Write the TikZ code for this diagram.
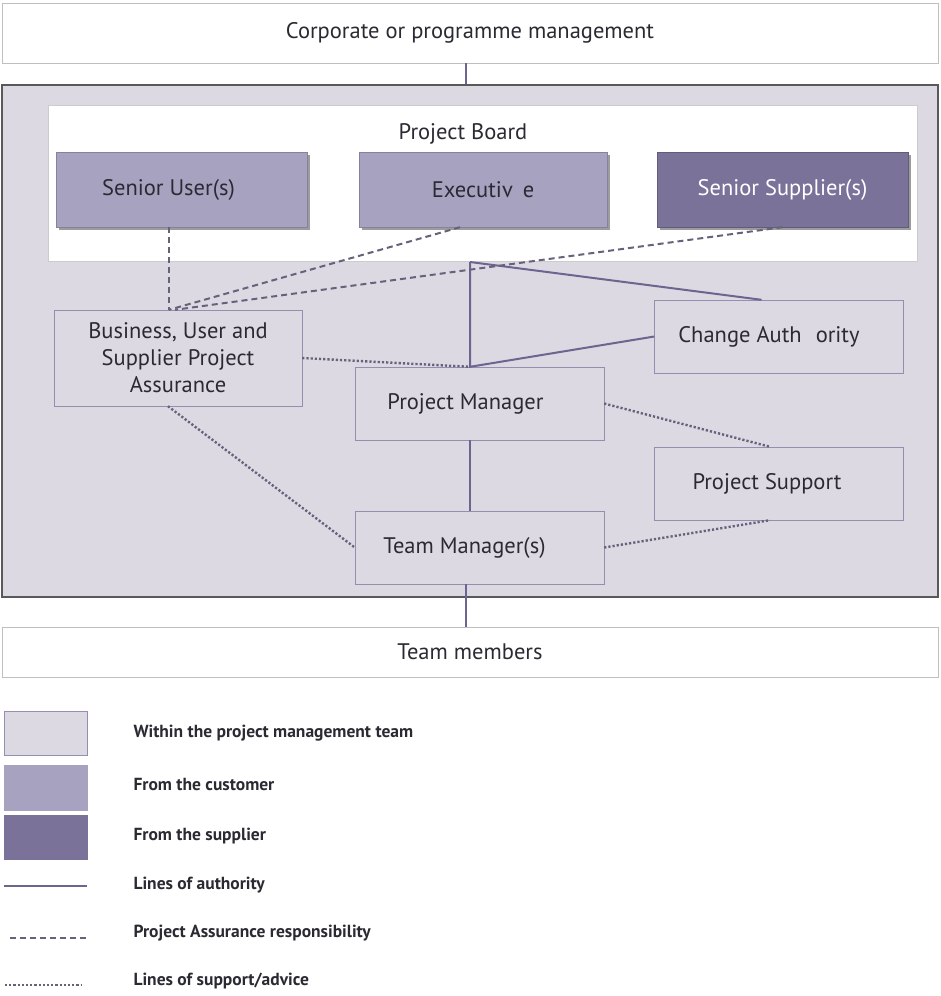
\documentclass[tikz,border=0pt]{standalone}
\usepackage{fontspec}
\setmainfont{PT Sans}
\usetikzlibrary{calc,shadows}
\definecolor{fond}{HTML}{DDD9E3}
\definecolor{trait}{HTML}{948FAE}
\definecolor{client}{HTML}{A8A2C1}
\definecolor{fourn}{HTML}{7B7299}
\definecolor{lien}{HTML}{6B6590}
\definecolor{tirets}{HTML}{66627C}
\definecolor{texte}{HTML}{2B2A33}
\begin{document}
\begin{tikzpicture}[x=1pt,y=-1pt,font=\fontsize{22.5}{27}\selectfont,text=texte]
\tikzstyle{boite}=[draw=trait,fill=fond,minimum width=249pt,minimum height=73pt,align=center]
\tikzstyle{ombre}=[drop shadow={shadow xshift=2.5pt,shadow yshift=-2.5pt,opacity=.55,fill=black!70}]
\tikzstyle{cli}=[boite,ombre,fill=client,draw=client!80!black]
\tikzstyle{fou}=[boite,ombre,fill=fourn,draw=fourn!80!black,text=white]
\tikzstyle{bande}=[draw=black!25,fill=white,minimum width=936pt]
\tikzstyle{autorite}=[draw=lien,line width=2pt] % lignes d'autorite
\tikzstyle{assurance}=[draw=tirets,line width=2pt,dash pattern=on 6pt off 4pt]
\tikzstyle{soutien}=[draw=tirets,line width=2.4pt,dash pattern=on 2.2pt off 2pt]
\tikzstyle{legende}=[anchor=west,font=\fontsize{17.5}{20}\selectfont\bfseries]
\useasboundingbox (0,0) rectangle (941,996);
% les deux bandes et le cadre
\node[bande,minimum height=60pt] (corp) at (470,33) {Corporate or programme management};
\node[draw=black!65,line width=1.5pt,fill=fond,minimum width=936pt,minimum height=512pt] (main) at (470,341) {};
\node[bande,minimum height=50pt] (team) at (470,652) {Team members};
% comite de projet
\node[draw=black!20,fill=white,minimum width=869pt,minimum height=156pt] (board) at (482.5,183) {};
\node at (463,134) {Project Board};
\node[cli,minimum width=251pt,minimum height=75pt] (SU) at (181.5,189.5) {Senior User(s)\hspace{26pt}};
\node[cli,minimum width=248pt,minimum height=75pt] (Ex) at (483,189.5) {Executiv\hspace{10pt}e};
\node[fou,minimum width=251pt,minimum height=75pt] (SS) at (782.5,189.5) {Senior Supplier(s)};
% equipe
\node[boite,minimum width=248pt,minimum height=96pt] (BA) at (178,358) {Business, User and\\Supplier Project\\Assurance};
\node[boite] (PM) at (479.5,403.5) {Project Manager\hspace{28pt}};
\node[boite] (CA) at (779,336.5) {Change Auth\hspace{14pt}ority\hspace{20pt}};
\node[boite] (PS) at (779,483.5) {Project Support\hspace{24pt}};
\node[boite] (TM) at (479.5,547.5) {Team Manager(s)\hspace{30pt}};
\coordinate (jb) at (470,262);
\coordinate (bat) at ($(BA.north)+(-9,0)$);
% liens
\draw[autorite] (corp.south -| 466,0) -- (main.north -| 466,0);
\draw[autorite] (TM.south -| 466,0) -- (team.north -| 466,0);
\draw[autorite] (jb) -- (jb |- PM.north) -- (CA.west);
\draw[autorite] (jb) -- ($(CA.north west)!.43!(CA.north east)$);
\draw[autorite] (jb |- PM.south) -- (jb |- TM.north);
\draw[assurance] (SU.south -| bat) -- (bat);
\draw[assurance] ($(Ex.south)+(-23,0)$) -- (bat);
\draw[assurance] (SS.south) -- ($(bat)+(6,0)$);
\draw[soutien] (BA.east) -- (jb |- PM.north);
\draw[soutien] ($(BA.south)+(-10,0)$) -- (TM.west);
\draw[soutien] (PM.east) -- ($(PS.north)+(-9,0)$);
\draw[soutien] (TM.east) -- ($(PS.south)+(-9,0)$);
% legende
\node[draw=trait,fill=fond,minimum width=83pt,minimum height=44pt] (l1) at (45.5,733) {};
\node[draw=client,fill=client,minimum width=83pt,minimum height=45pt] (l2) at (45.5,787.5) {};
\node[draw=fourn,fill=fourn,minimum width=83pt,minimum height=44pt] (l3) at (45.5,837) {};
\coordinate (a1) at (4,886); \coordinate (a2) at (87,886);
\coordinate (b1) at (10,938); \coordinate (b2) at (88,938);
\coordinate (c1) at (5,985); \coordinate (c2) at (81,985);
\draw[autorite] (a1) -- (a2);
\draw[assurance] (b1) -- (b2);
\draw[soutien] (c1) -- (c2);
\node[legende] at (130,733) {Within the project management team};
\node[legende] at (130,784) {From the customer};
\node[legende] at (130,836) {From the supplier};
\node[legende] at (130,885) {Lines of authority};
\node[legende] at (130,933) {Project Assurance responsibility};
\node[legende] at (130,981) {Lines of support/advice};
\end{tikzpicture}
\end{document}
